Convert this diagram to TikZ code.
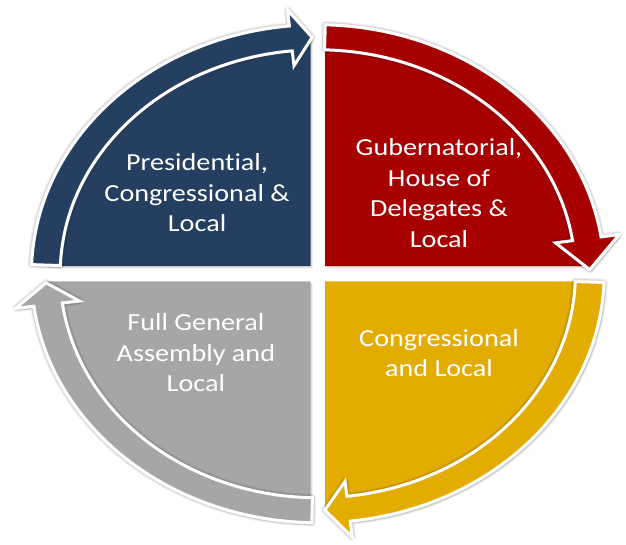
\documentclass[tikz,border=0pt]{standalone}
\usepackage{fontspec}
\setmainfont{Carlito}[Ligatures=NoCommon]
\usetikzlibrary{shadows}
\definecolor{qblue}{HTML}{243F60}
\definecolor{qred}{HTML}{A60000}
\definecolor{qyellow}{HTML}{E3AC00}
\definecolor{qgray}{HTML}{A6A6A6}
\begin{document}
\begin{tikzpicture}[x=1pt,y=1pt,
  softshadow/.style={
    drop shadow={shadow xshift=2.2pt,shadow yshift=-2.6pt,opacity=0.10},
    drop shadow={shadow xshift=1.2pt,shadow yshift=-1.5pt,opacity=0.18}},
  halo/.style={
    preaction={draw=black, line width=8pt, opacity=0.05, line join=round},
    preaction={draw=black, line width=5.5pt, opacity=0.10, line join=round}},
  quad/.style={fill=#1, softshadow},
  cyc/.style={fill=#1, draw=white, line width=3pt, line join=miter, softshadow, halo},
  lbl/.style={text=white, align=center, font=\fontsize{24.5}{30.5}\selectfont, transform shape}]
\fill[white] (0,0) rectangle (626,545);
\useasboundingbox (0,0) rectangle (626,545);
\begin{scope}[shift={(317.8,271.25)}, xscale=1.15]
  % quadrants
  \path[quad=qblue] (-6.3,7.7) -- (91.53:236pt) arc[start angle=91.53, end angle=178.13, radius=236pt] -- cycle;
  \path[quad=qred] (6.3,7.7) -- (88.47:236pt) arc[start angle=88.47, end angle=1.87, radius=236pt] -- cycle;
  \path[quad=qyellow] (6.3,-7.7) -- (-1.87:236pt) arc[start angle=-1.87, end angle=-88.47, radius=236pt] -- cycle;
  \path[quad=qgray] (-6.3,-7.7) -- (-91.53:236pt) arc[start angle=-91.53, end angle=-178.13, radius=236pt] -- cycle;
  % circular arrows
  \path[cyc=qblue] (177.9:249pt) -- (177.9:224pt) arc[start angle=177.9, end angle=95.7, radius=224pt]
    -- (95.7:209pt) -- (91.2:236.5pt) -- (95.7:265pt) -- (95.7:249pt)
    arc[start angle=95.7, end angle=177.9, radius=249pt] -- cycle;
  \path[cyc=qred] (88.5:249pt) -- (88.5:224pt) arc[start angle=88.5, end angle=8.5, radius=224pt]
    -- (8.5:209pt) -- (1.0:236.5pt) -- (8.5:265pt) -- (8.5:249pt)
    arc[start angle=8.5, end angle=88.5, radius=249pt] -- cycle;
  \path[cyc=qyellow] (-2.0:249pt) -- (-2.0:224pt) arc[start angle=-2.0, end angle=-83.5, radius=224pt]
    -- (-83.5:209pt) -- (-88.5:236.5pt) -- (-83.5:265pt) -- (-83.5:249pt)
    arc[start angle=-83.5, end angle=-2.0, radius=249pt] -- cycle;
  \path[cyc=qgray] (268.8:249pt) -- (268.8:224pt) arc[start angle=268.8, end angle=187.5, radius=224pt]
    -- (187.5:209pt) -- (182.2:236.5pt) -- (187.5:265pt) -- (187.5:249pt)
    arc[start angle=187.5, end angle=268.8, radius=249pt] -- cycle;
  % labels
  \node[lbl] (pres) at (-105,80.8) {Presidential,\\Congressional \&\\Local};
  \node[lbl] (gub) at (105.4,80.5) {Gubernatorial,\\House of\\Delegates \&\\Local};
  \node[lbl] (cong) at (105.4,-79.3) {Congressional\\and Local};
  \node[lbl] (full) at (-106,-79) {Full General\\Assembly and\\Local};
\end{scope}
\end{tikzpicture}
\end{document}
